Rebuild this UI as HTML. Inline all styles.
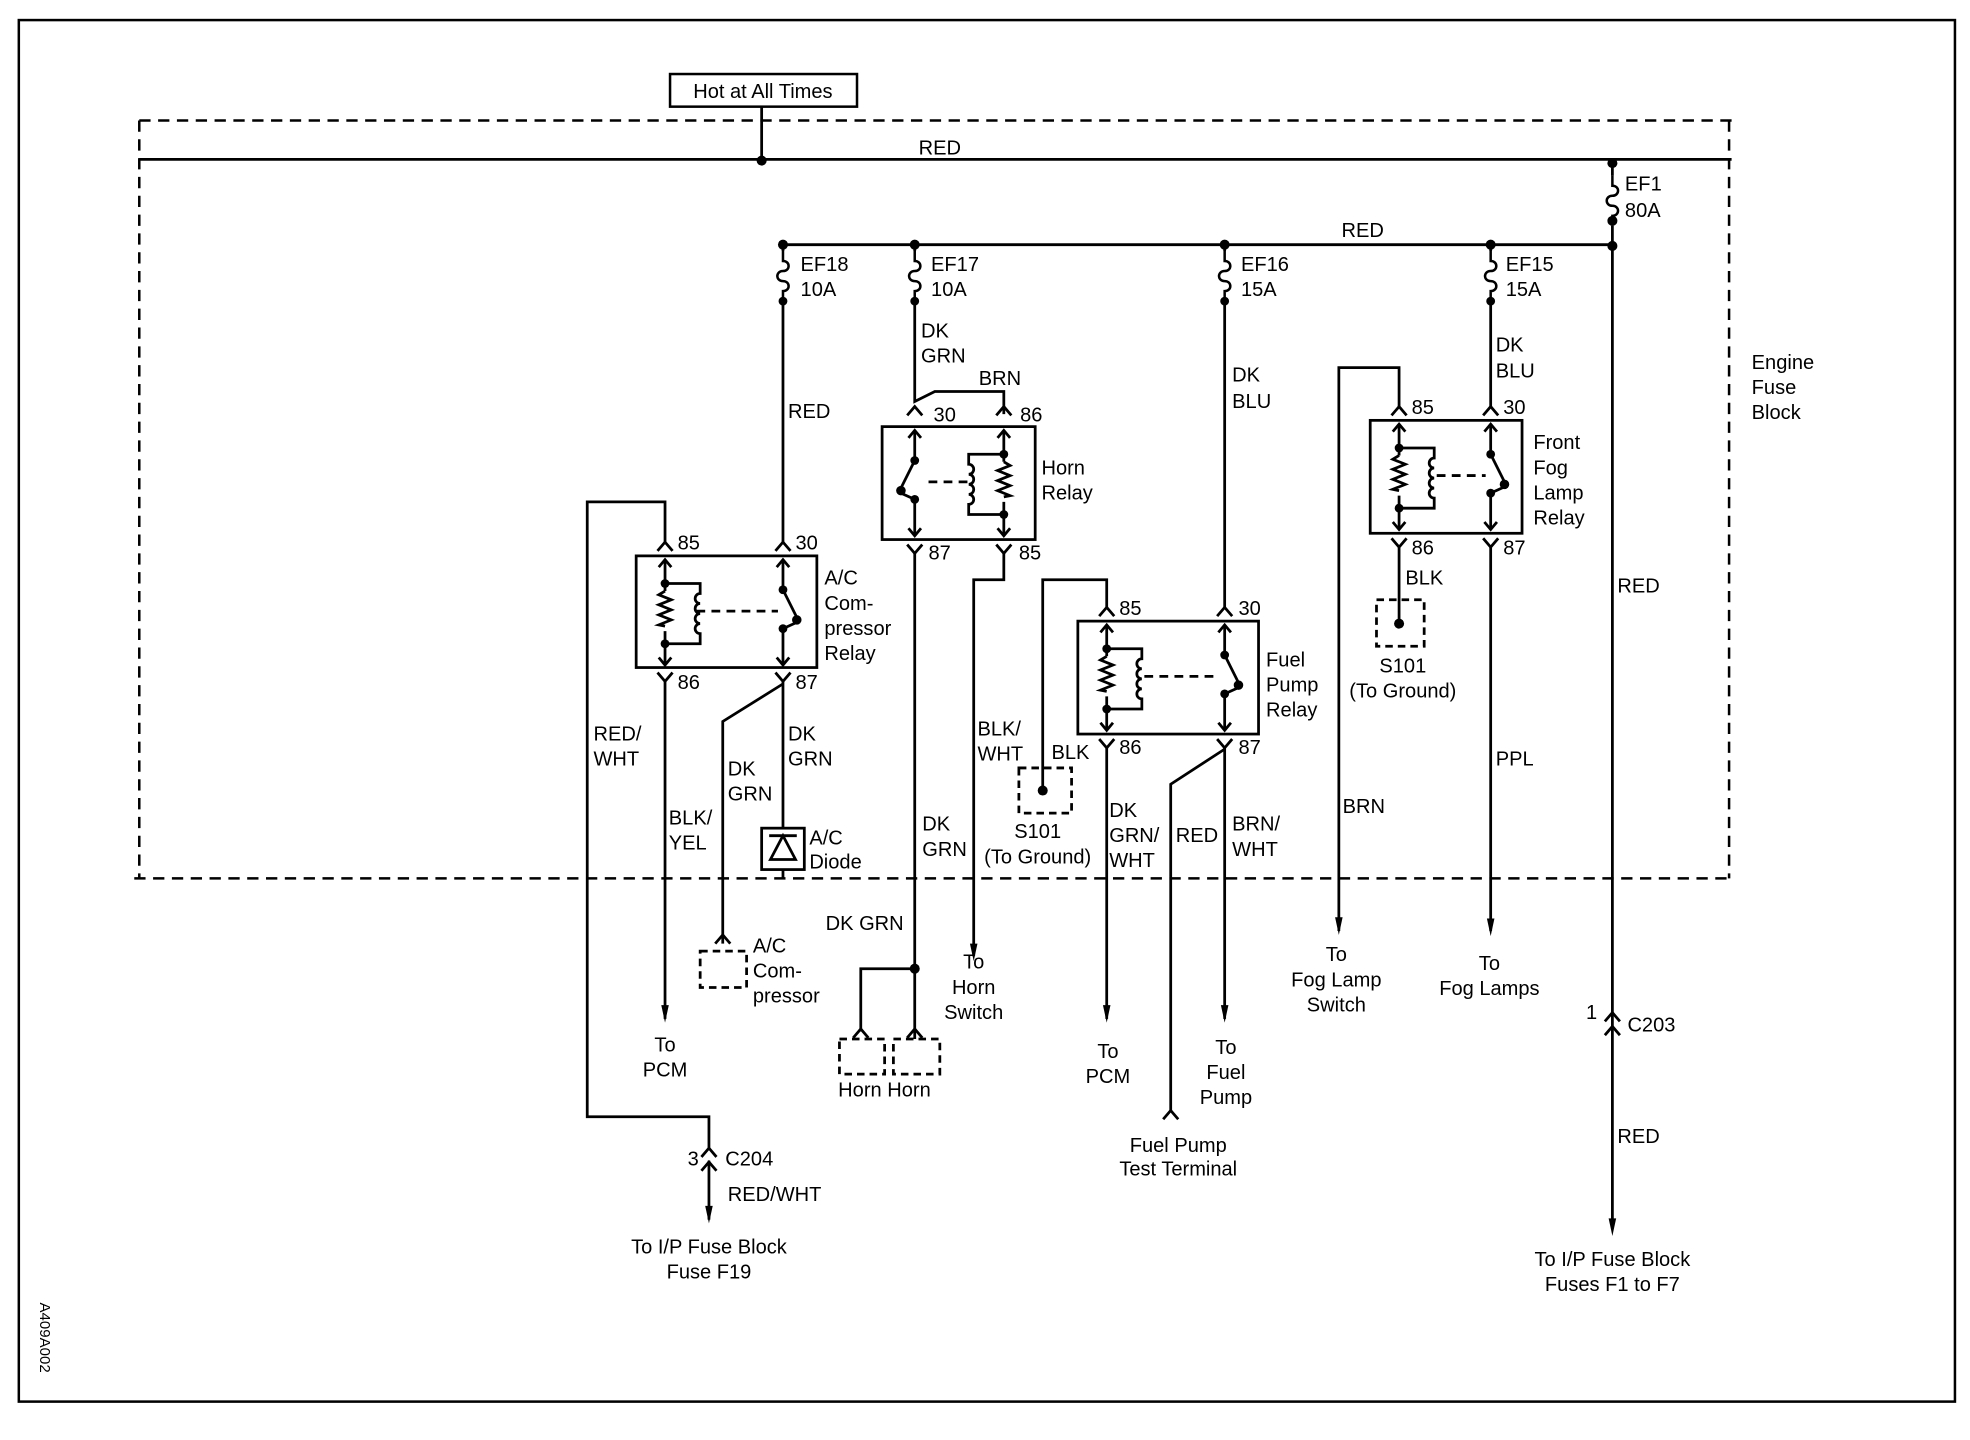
<!DOCTYPE html>
<html><head><meta charset="utf-8">
<style>
html,body{margin:0;padding:0;background:#fff;}
svg{display:block;}
text{font-family:"Liberation Sans",Arial,sans-serif;font-size:16px;fill:#000;}
.m{text-anchor:middle;}
</style></head><body>
<svg width="1970" height="1440" viewBox="0 0 1570 1147.6" preserveAspectRatio="none" xmlns="http://www.w3.org/2000/svg">
<defs>
<g id="coil" fill="none" stroke="#000" stroke-width="2.2">
  <path d="M0,3 V28 M0,60 V87"/>
  <path d="M-5,9 L0,3 L5,9 M-5,81 L0,87 L5,81"/>
  <path d="M0,28 l-5,3 l10,4 l-10,4 l10,4 l-10,4 l10,4 l-10,4 l5,1"/>
  <path d="M0,22 H28 V30 a4,4 0 0 0 0,8 a4,4 0 0 0 0,8 a4,4 0 0 0 0,8 a4,4 0 0 0 0,8 V70 H0"/>
  <circle cx="0" cy="22" r="3.5" fill="#000" stroke="none"/>
  <circle cx="0" cy="70" r="3.5" fill="#000" stroke="none"/>
</g>
<g id="sw" fill="none" stroke="#000" stroke-width="2.2">
  <path d="M0,3 V27 M0,58 V87"/>
  <path d="M-5,9 L0,3 L5,9 M-5,81 L0,87 L5,81"/>
  <path d="M0,27 L11,49 M0,58 L11,53"/>
  <circle cx="0" cy="27" r="3.5" fill="#000" stroke="none"/>
  <circle cx="11" cy="51" r="3.8" fill="#000" stroke="none"/>
  <circle cx="0" cy="58" r="3.5" fill="#000" stroke="none"/>
</g>
<path id="up" d="M-6,7 L0,0 L6,7" fill="none" stroke="#000" stroke-width="2.2"/>
<path id="yy" d="M-6,0 L0,7 L6,0" fill="none" stroke="#000" stroke-width="2.2"/>
<path id="arr" d="M-3,-14 L0,0 L3,-14 Z" fill="#000"/>
<path id="fuse" d="M0,0 v8 c6,0 6,8 0,8 c-6,0 -6,8 0,8 c6,0 6,8 0,8 v8" fill="none" stroke="#000" stroke-width="2"/>
</defs>

<!-- outer border -->
<rect x="15" y="16" width="1543" height="1101" fill="none" stroke="#000" stroke-width="2"/>

<!-- Hot at all times -->
<rect x="534" y="59" width="149" height="26" fill="none" stroke="#000" stroke-width="2"/>
<text x="608" y="78" class="m">Hot at All Times</text>

<!-- dashed engine fuse block -->
<path d="M111,96 H1380 M111,96 V700 M1378,96 V700 M107,700 H1378" fill="none" stroke="#000" stroke-width="2" stroke-dasharray="9,6"/>
<text x="1396" y="294">Engine</text><text x="1396" y="314">Fuse</text><text x="1396" y="334">Block</text>

<g fill="none" stroke="#000" stroke-width="2.2">
<!-- top red bus -->
<path d="M111,127 H1380 M607,85 V128"/>
<!-- EF1 -->
<path d="M1285,128 V140 M1285,180 V975"/>
<!-- red bus 2 -->
<path d="M624,195 H1285"/>
<!-- EF18 column -->
<path d="M624,195 V200 M624,240 V432"/>
<!-- EF17 -->
<path d="M729,195 V200 M729,240 V320 L745,312 H800 V330"/>
<!-- EF16 -->
<path d="M976,195 V200 M976,240 V484"/>
<!-- EF15 -->
<path d="M1188,195 V200 M1188,240 V324"/>

<!-- A/C relay -->
<rect x="507" y="443" width="144" height="89"/>
<path d="M530,432 V400 H468 V890 H565 V915"/>
<path d="M530,543 V812"/>
<path d="M624,543 V660 M624,693 V700"/>
<path d="M624,545 L576,575 V745"/>
<path d="M555,487 H620" stroke-dasharray="7,5"/>
<rect x="607" y="660" width="34" height="33"/>
<path d="M613,666 H635 M624,666 L614,685 H634 Z"/>
<rect x="558" y="758" width="37" height="29" stroke-dasharray="6,4"/>
<path d="M576,745 V752"/>

<!-- C204 -->
<path d="M565,925 V972"/>

<!-- Horn relay -->
<rect x="703" y="340" width="122" height="90"/>
<path d="M729,440 V828 M729,772 H686 V822"/>
<path d="M800,440 V462 H776 V762"/>
<path d="M740,384 H772" stroke-dasharray="7,5"/>
<rect x="669" y="828" width="36" height="28" stroke-dasharray="6,4"/>
<rect x="712" y="828" width="37" height="28" stroke-dasharray="6,4"/>

<!-- Fuel pump relay -->
<rect x="859" y="495" width="144" height="90"/>
<path d="M882,484 V462 H831 V630"/>
<rect x="812" y="612" width="42" height="36" stroke-dasharray="6,4"/>
<path d="M882,595 V812"/>
<path d="M976,595 V812"/>
<path d="M976,597 L933,625 V885"/>
<path d="M912,539 H972" stroke-dasharray="7,5"/>

<!-- Fog relay -->
<rect x="1092" y="335" width="121" height="90"/>
<path d="M1115,324 V293 H1067 V742"/>
<path d="M1115,436 V497"/>
<rect x="1097" y="478" width="38" height="37" stroke-dasharray="6,4"/>
<path d="M1188,436 V742"/>
<path d="M1145,379 H1184" stroke-dasharray="7,5"/>
</g>

<!-- fuses -->
<use href="#fuse" x="1285" y="140"/>
<use href="#fuse" x="624" y="200"/>
<use href="#fuse" x="729" y="200"/>
<use href="#fuse" x="976" y="200"/>
<use href="#fuse" x="1188" y="200"/>

<!-- dots -->
<g fill="#000">
<circle cx="607" cy="128" r="4"/>
<circle cx="1285" cy="130" r="4"/><circle cx="1285" cy="176" r="4"/><circle cx="1285" cy="196" r="4"/>
<circle cx="624" cy="195" r="4"/><circle cx="729" cy="195" r="4"/><circle cx="976" cy="195" r="4"/><circle cx="1188" cy="195" r="4"/>
<circle cx="624" cy="240" r="3.5"/><circle cx="729" cy="240" r="3.5"/><circle cx="976" cy="240" r="3.5"/><circle cx="1188" cy="240" r="3.5"/>
<circle cx="729" cy="772" r="4"/>
<circle cx="831" cy="630" r="4"/>
<circle cx="1115" cy="497" r="4"/>
</g>

<!-- relay internals -->
<use href="#coil" transform="translate(530,443)"/>
<use href="#sw" transform="translate(624,443)"/>
<use href="#sw" transform="translate(729,340) scale(-1,1)"/>
<use href="#coil" transform="translate(800,340) scale(-1,1)"/>
<use href="#coil" transform="translate(882,495)"/>
<use href="#sw" transform="translate(976,495)"/>
<use href="#coil" transform="translate(1115,335)"/>
<use href="#sw" transform="translate(1188,335)"/>

<!-- pin chevrons -->
<use href="#up" x="530" y="432"/><use href="#up" x="624" y="432"/>
<use href="#yy" x="530" y="536"/><use href="#yy" x="624" y="536"/>
<use href="#up" x="729" y="324"/><use href="#up" x="800" y="324"/>
<use href="#yy" x="729" y="434"/><use href="#yy" x="800" y="434"/>
<use href="#up" x="882" y="484"/><use href="#up" x="976" y="484"/>
<use href="#yy" x="882" y="589"/><use href="#yy" x="976" y="589"/>
<use href="#up" x="1115" y="324"/><use href="#up" x="1188" y="324"/>
<use href="#yy" x="1115" y="429"/><use href="#yy" x="1188" y="429"/>
<use href="#up" x="576" y="745"/>
<use href="#up" x="686" y="820"/><use href="#up" x="729" y="820"/>
<use href="#up" x="933" y="885"/>
<use href="#up" x="565" y="915"/><use href="#up" x="565" y="926"/>
<use href="#up" x="1285" y="807"/><use href="#up" x="1285" y="818"/>

<!-- arrows -->
<use href="#arr" x="530" y="815"/>
<use href="#arr" x="776" y="766"/>
<use href="#arr" x="882" y="815"/>
<use href="#arr" x="976" y="815"/>
<use href="#arr" x="1067" y="745"/>
<use href="#arr" x="1188" y="746"/>
<use href="#arr" x="565" y="975"/>
<use href="#arr" x="1285" y="985"/>

<!-- labels -->
<text x="749" y="123" class="m">RED</text>
<text x="1295" y="152">EF1</text><text x="1295" y="173">80A</text>
<text x="1086" y="189" class="m">RED</text>
<text x="638" y="216">EF18</text><text x="638" y="236">10A</text>
<text x="742" y="216">EF17</text><text x="742" y="236">10A</text>
<text x="989" y="216">EF16</text><text x="989" y="236">15A</text>
<text x="1200" y="216">EF15</text><text x="1200" y="236">15A</text>
<text x="628" y="333">RED</text>
<text x="734" y="269">DK</text><text x="734" y="289">GRN</text>
<text x="780" y="307">BRN</text>
<text x="982" y="304">DK</text><text x="982" y="325">BLU</text>
<text x="1192" y="280">DK</text><text x="1192" y="301">BLU</text>

<text x="540" y="438">85</text><text x="634" y="438">30</text>
<text x="540" y="549">86</text><text x="634" y="549">87</text>
<text x="657" y="466">A/C</text><text x="657" y="486">Com-</text><text x="657" y="506">pressor</text><text x="657" y="526">Relay</text>

<text x="744" y="336">30</text><text x="813" y="336">86</text>
<text x="740" y="446">87</text><text x="812" y="446">85</text>
<text x="830" y="378">Horn</text><text x="830" y="398">Relay</text>

<text x="892" y="490">85</text><text x="987" y="490">30</text>
<text x="892" y="601">86</text><text x="987" y="601">87</text>
<text x="1009" y="531">Fuel</text><text x="1009" y="551">Pump</text><text x="1009" y="571">Relay</text>

<text x="1125" y="330">85</text><text x="1198" y="330">30</text>
<text x="1125" y="442">86</text><text x="1198" y="442">87</text>
<text x="1222" y="358">Front</text><text x="1222" y="378">Fog</text><text x="1222" y="398">Lamp</text><text x="1222" y="418">Relay</text>

<text x="473" y="590">RED/</text><text x="473" y="610">WHT</text>
<text x="533" y="657">BLK/</text><text x="533" y="677">YEL</text>
<text x="628" y="590">DK</text><text x="628" y="610">GRN</text>
<text x="580" y="618">DK</text><text x="580" y="638">GRN</text>
<text x="645" y="673">A/C</text><text x="645" y="692">Diode</text>
<text x="600" y="759">A/C</text><text x="600" y="779">Com-</text><text x="600" y="799">pressor</text>
<text x="530" y="838" class="m">To</text><text x="530" y="858" class="m">PCM</text>
<text x="548" y="929">3</text><text x="578" y="929">C204</text>
<text x="580" y="957">RED/WHT</text>
<text x="565" y="999" class="m">To I/P Fuse Block</text><text x="565" y="1019" class="m">Fuse F19</text>

<text x="735" y="662">DK</text><text x="735" y="682">GRN</text>
<text x="658" y="741">DK GRN</text>
<text x="668" y="874">Horn Horn</text>
<text x="779" y="586">BLK/</text><text x="779" y="606">WHT</text>
<text x="776" y="772" class="m">To</text><text x="776" y="792" class="m">Horn</text><text x="776" y="812" class="m">Switch</text>

<text x="838" y="605">BLK</text>
<text x="827" y="668" class="m">S101</text><text x="827" y="688" class="m">(To Ground)</text>
<text x="884" y="651">DK</text><text x="884" y="671">GRN/</text><text x="884" y="691">WHT</text>
<text x="937" y="671">RED</text>
<text x="982" y="662">BRN/</text><text x="982" y="682">WHT</text>
<text x="883" y="843" class="m">To</text><text x="883" y="863" class="m">PCM</text>
<text x="977" y="840" class="m">To</text><text x="977" y="860" class="m">Fuel</text><text x="977" y="880" class="m">Pump</text>
<text x="939" y="918" class="m">Fuel Pump</text><text x="939" y="937" class="m">Test Terminal</text>

<text x="1120" y="466">BLK</text>
<text x="1118" y="536" class="m">S101</text><text x="1118" y="556" class="m">(To Ground)</text>
<text x="1070" y="648">BRN</text>
<text x="1192" y="610">PPL</text>
<text x="1065" y="766" class="m">To</text><text x="1065" y="786" class="m">Fog Lamp</text><text x="1065" y="806" class="m">Switch</text>
<text x="1187" y="773" class="m">To</text><text x="1187" y="793" class="m">Fog Lamps</text>

<text x="1289" y="472">RED</text>
<text x="1264" y="812">1</text><text x="1297" y="822">C203</text>
<text x="1289" y="911">RED</text>
<text x="1285" y="1009" class="m">To I/P Fuse Block</text><text x="1285" y="1029" class="m">Fuses F1 to F7</text>

<text x="0" y="0" transform="translate(32,1038) rotate(90)" style="font-size:12px">A409A002</text>
</svg>
</body></html>
